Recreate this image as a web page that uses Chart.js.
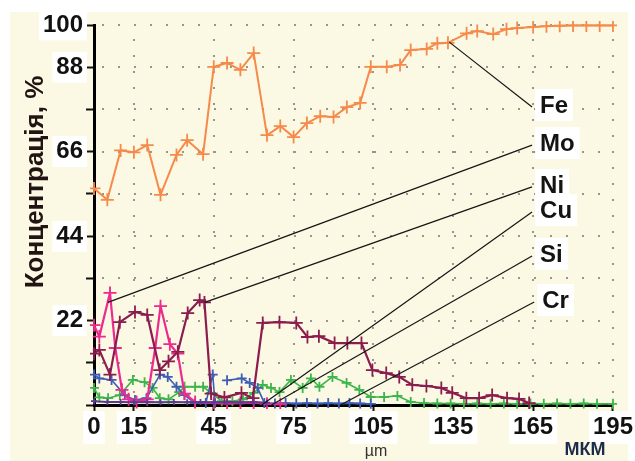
<!DOCTYPE html>
<html><head><meta charset="utf-8">
<script src="https://cdn.jsdelivr.net/npm/chart.js@4/dist/chart.umd.min.js"></script>
<style>html,body{margin:0;padding:0;background:#fff;}canvas{display:block}</style>
</head><body>
<canvas id="c" width="635" height="461"></canvas>
<script>
// ---- data ----
const xTickValues = [0, 15, 45, 75, 105, 135, 165, 195];
const xTickLabels = ['0', '15', '45', '75', '105', '135', '165', '195'];
const yTickValues = [0, 11.1, 22.2, 33.3, 44.4, 55.6, 66.7, 77.8, 88.9, 100];
const yTickLabels = ['', '', '22', '', '44', '', '66', '', '88', '100'];

const feX = [0, 5, 10, 15, 20, 25, 31, 35, 41, 45, 50, 55, 60, 65, 70, 75, 80, 85, 90, 95, 100, 104, 110, 115, 119, 125, 129, 133, 140, 144, 150, 155, 159, 165, 170, 175, 180, 185, 190, 195];
const feY = [57, 54, 67, 66.5, 68.4, 55.3, 65.8, 69.7, 66, 89, 90, 88.2, 92.6, 71, 73.4, 70.5, 74.2, 76, 75.8, 78.4, 79.5, 89, 89, 89.5, 93.4, 93.7, 95.2, 95.3, 97.8, 98.4, 97.6, 98.9, 99.2, 99.5, 99.7, 99.8, 99.9, 99.9, 99.9, 99.9];

const moX = [0, 2, 6, 8, 10.5, 13, 16, 20, 23, 25, 28.5, 31.5, 34, 38, 45, 50, 55, 60, 65, 70];
const moY = [21, 18, 29.5, 15, 4, 1.5, 0.8, 1.5, 15, 26, 16, 13.5, 3, 0.8, 0.5, 0.4, 0.5, 0.6, 0.3, 0.2];

const niX = [0, 2, 6, 9.7, 15.4, 20, 24.7, 28, 31.5, 35.2, 39.7, 41.5, 44, 49, 55.4, 59.7, 63.4, 69.7, 76, 80.2, 84.5, 90.4, 95.2, 100.5, 104.6, 109.8, 114.7, 119.6, 124.9, 130.5, 134.6, 139.9, 144.7, 149.6, 155.2, 159.7, 163.5];
const niY = [13.5, 14.5, 8, 21.8, 24.5, 23.7, 9.2, 11.5, 14, 24.2, 27.6, 27, 3, 2, 3.2, 1.8, 21.6, 21.8, 21.6, 17.9, 18.1, 16.3, 16.3, 16.3, 9.2, 8.4, 7.4, 5.3, 5, 4.5, 3.2, 1.8, 1.8, 2.6, 1.8, 1.6, 0.5];

const cuX = [0, 2, 6.6, 11.6, 15.4, 19.7, 24.8, 27.7, 31, 34, 38, 42, 44.6, 45.5, 48, 50, 55.5, 58.5, 61.5, 64, 68, 72, 76, 80, 84, 88, 92, 96, 100, 104];
const cuY = [8, 7, 6.6, 2.6, 1.3, 1.8, 8, 7.4, 4.8, 2.6, 0.5, 0.5, 8, 0.5, null, 6.5, 7, 5.8, 4.5, 0.5, 0.4, 0.5, 0.4, 0.5, 0.4, 0.5, 0.4, 0.5, 0.4, 0.3];

const siX = [0, 2, 5.3, 9.7, 14.6, 19, 22, 24.7, 28, 32, 34, 38, 41, 44, 48, 52, 56, 60, 63.4, 66.5, 69.7, 74, 78.4, 81.5, 84.7, 89.6, 94.9, 99.7, 104, 109, 114, 119, 124, 129, 134, 139, 144, 149, 154, 159, 164, 169, 174, 179, 184, 189, 195];
const siY = [4.5, 2, 1.8, 2.6, 6.6, 6, 4.5, 1.8, 1.5, 3.4, 4.8, 4.8, 4.8, 3.2, 1, 1, 1.5, 3.2, 5.3, 4.5, 3.4, 6.6, 4.5, 7, 4.8, 7.4, 5.8, 4, 2.1, 2.1, 2.4, 0.8, 0.5, 0.4, 0.4, 0.3, 0.4, 0.3, 0.4, 0.3, 0.4, 0.3, 0.4, 0.3, 0.4, 0.3, 0.3];

const crX = [0, 5, 10, 15, 20, 25, 30, 35, 40, 45, 50, 55, 60, 65];
const crY = [1, 0.8, 0.8, 0.7, 0.8, 0.7, 0.8, 0.7, 0.8, 0.7, 0.8, 0.7, 0.8, 0.6];

const seriesNames = ['Fe', 'Mo', 'Ni', 'Cu', 'Si', 'Cr'];

// ---- helpers ----
function pts(xs, ys) { return xs.map((v, i) => ({x: v, y: ys[i]})); }

const seriesStyle = {
  Fe: {color: '#F58A4B', r: 6.5, w: 2},
  Mo: {color: '#EE2A8E', r: 6.5, w: 2.2},
  Ni: {color: '#8A1C4E', r: 6.5, w: 2.2},
  Cu: {color: '#3E5DB5', r: 5, w: 1.6},
  Si: {color: '#3DB54B', r: 5, w: 1.6},
  Cr: {color: '#5B3A90', r: 3, w: 2}
};
const seriesData = {Fe: pts(feX, feY), Mo: pts(moX, moY), Ni: pts(niX, niY), Cu: pts(cuX, cuY), Si: pts(siX, siY), Cr: pts(crX, crY)};
const drawOrder = {Fe: 1, Ni: 2, Mo: 3, Cu: 4, Si: 5, Cr: 0};

// leader lines: anchor on data, end near label (data coordinates)
const leaders = [
  {name: 'Fe', from: [133.5, 95.5], to: [164.6, 78.4]},
  {name: 'Mo', from: [5.2, 27], to: [164.6, 68.4]},
  {name: 'Ni', from: [41.6, 27], to: [164.6, 57.4]},
  {name: 'Cu', from: [63, 0], to: [164.6, 50.8]},
  {name: 'Si', from: [66.7, 0], to: [164.6, 39.2]},
  {name: 'Cr', from: [92.6, 0], to: [165.4, 27.1]}
];

const FONT = '"Liberation Sans", Arial, sans-serif';

const annot = {
  id: 'annot',
  beforeDraw(chart) {
    const ctx = chart.ctx;
    ctx.save();
    ctx.fillStyle = '#ffffff';
    ctx.fillRect(0, 0, chart.width, chart.height);
    ctx.fillStyle = '#FBF9E3';
    ctx.fillRect(10, 12, 618, 449);
    ctx.restore();
  },
  beforeDatasetsDraw(chart) {
    // dotted grid
    const ctx = chart.ctx, xs = chart.scales.x, ys = chart.scales.y, a = chart.chartArea;
    ctx.save();
    ctx.fillStyle = '#96968e';
    yTickValues.forEach(v => {
      if (v === 0) return;
      const py = Math.round(ys.getPixelForValue(v));
      for (let px = a.left + 8; px < a.right - 2; px += 16) ctx.fillRect(px, py - 1, 2, 2);
    });
    xTickValues.forEach(v => {
      if (v === 0) return;
      const px = Math.round(xs.getPixelForValue(v));
      for (let py = a.bottom - 14; py > a.top + 2; py -= 16) ctx.fillRect(px - 1, py, 2, 2);
    });
    ctx.restore();
  },
  afterDatasetsDraw(chart) {
    const ctx = chart.ctx, xs = chart.scales.x, ys = chart.scales.y;
    ctx.save();
    ctx.strokeStyle = '#151515';
    ctx.lineWidth = 1.2;
    leaders.forEach(l => {
      ctx.beginPath();
      ctx.moveTo(xs.getPixelForValue(l.from[0]), ys.getPixelForValue(l.from[1]));
      ctx.lineTo(xs.getPixelForValue(l.to[0]), ys.getPixelForValue(l.to[1]));
      ctx.stroke();
    });
    ctx.font = 'bold 24px ' + FONT;
    ctx.textBaseline = 'middle';
    ctx.textAlign = 'left';
    leaders.forEach(l => {
      const px = xs.getPixelForValue(l.to[0]) + 8;
      const py = ys.getPixelForValue(l.to[1]) - 2;
      const w = ctx.measureText(l.name).width;
      ctx.fillStyle = '#ffffff';
      ctx.fillRect(px - 5, py - 16, w + 10, 32);
      ctx.fillStyle = '#141414';
      ctx.fillText(l.name, px, py + 1);
    });
    ctx.restore();
  },
  afterDraw(chart) {
    const ctx = chart.ctx;
    ctx.save();
    ctx.translate(36, 182);
    ctx.rotate(-Math.PI / 2);
    ctx.font = 'bold 26px ' + FONT;
    ctx.fillStyle = '#231414';
    ctx.textAlign = 'center';
    ctx.textBaseline = 'middle';
    ctx.fillText('Концентрація, %', 0, 0);
    ctx.restore();
    ctx.save();
    ctx.textAlign = 'center';
    ctx.textBaseline = 'middle';
    ctx.font = '16px ' + FONT;
    ctx.fillStyle = '#333333';
    ctx.fillText('µm', 376, 452);
    ctx.font = 'bold 18px ' + FONT;
    ctx.fillStyle = '#1c2b4a';
    ctx.fillText('МКМ', 585, 450);
    ctx.restore();
  }
};

const datasets = seriesNames.map(n => ({
  label: n,
  data: seriesData[n],
  borderColor: seriesStyle[n].color,
  backgroundColor: seriesStyle[n].color,
  borderWidth: seriesStyle[n].w,
  pointStyle: 'cross',
  pointRadius: seriesStyle[n].r,
  pointBorderWidth: 1.8,
  pointBorderColor: seriesStyle[n].color,
  tension: 0,
  spanGaps: false,
  order: drawOrder[n],
  clip: 4
}));

const hasLabel = (labels) => (c) => !!labels[c.index];

new Chart(document.getElementById('c'), {
  type: 'line',
  data: {datasets},
  plugins: [annot],
  options: {
    responsive: false,
    animation: false,
    devicePixelRatio: 1,
    layout: {padding: {top: 25, right: 21, left: 0, bottom: 0}},
    plugins: {legend: {display: false}, tooltip: {enabled: false}, title: {display: false}},
    scales: {
      x: {
        type: 'linear', min: 0, max: 195,
        afterBuildTicks: s => { s.ticks = xTickValues.map(v => ({value: v})); },
        afterFit: s => { s.height = 56; },
        ticks: {
          autoSkip: false, maxRotation: 0, padding: 2,
          font: {family: FONT, size: 24, weight: 'bold'}, color: '#111',
          callback: (v, i) => xTickLabels[i],
          showLabelBackdrop: hasLabel(xTickLabels), backdropColor: '#ffffff', backdropPadding: {x: 4, y: 2}
        },
        grid: {drawOnChartArea: false, tickLength: 6, tickColor: '#111', tickWidth: 2},
        border: {color: '#000', width: 3}
      },
      y: {
        type: 'linear', min: 0, max: 100,
        afterBuildTicks: s => { s.ticks = yTickValues.map(v => ({value: v})); },
        afterFit: s => { s.width = 94; },
        ticks: {
          autoSkip: false, padding: 3,
          font: {family: FONT, size: 24, weight: 'bold'}, color: '#111',
          callback: (v, i) => yTickLabels[i],
          showLabelBackdrop: hasLabel(yTickLabels), backdropColor: '#ffffff', backdropPadding: {x: 4, y: 1}
        },
        grid: {drawOnChartArea: false, tickLength: 8, tickColor: '#111', tickWidth: 2},
        border: {color: '#000', width: 3}
      }
    }
  }
});
</script>
</body></html>
